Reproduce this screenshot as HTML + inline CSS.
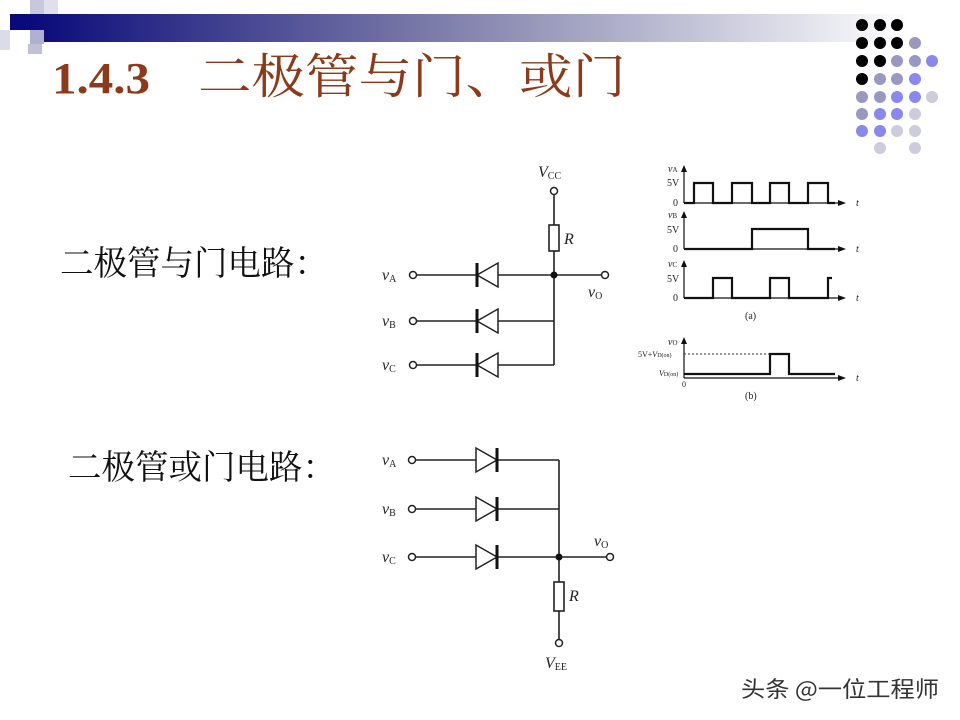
<!DOCTYPE html>
<html><head><meta charset="utf-8"><style>
html,body{margin:0;padding:0;background:#fff}
svg{display:block}
</style></head><body>
<svg width="960" height="720" viewBox="0 0 960 720" xmlns="http://www.w3.org/2000/svg" font-family="Liberation Serif, serif">
<defs>
<linearGradient id="g" x1="0" x2="1" y1="0" y2="0">
<stop offset="0" stop-color="#0a0a7a"/><stop offset="0.45" stop-color="#7a7aa8"/><stop offset="1" stop-color="#ffffff"/>
</linearGradient>
</defs>
<!-- header -->
<rect x="30" y="14" width="880" height="28" fill="url(#g)"/>
<rect x="10" y="14" width="20" height="16" fill="#0a0a7a"/>
<rect x="30" y="0" width="14" height="14" fill="#c8c8dc"/>
<rect x="44" y="0" width="14" height="14" fill="#e0e0ec"/>
<rect x="30" y="30" width="14" height="14" fill="#b0b0d0"/>
<rect x="0" y="30" width="10" height="20" fill="#dcdce8"/>
<rect x="28" y="44" width="14" height="10" fill="#c0c0d8"/>
<text x="52" y="93" font-size="44" font-weight="bold" fill="#8b3a1a" textLength="98" lengthAdjust="spacingAndGlyphs" font-family="Liberation Serif, serif">1.4.3</text>
<text x="198" y="93" font-size="48" fill="#8b3a1a" textLength="428" lengthAdjust="spacingAndGlyphs" font-family="'Noto Serif CJK SC', serif">二极管与门、或门</text>
<!-- dots -->
<g>
<circle cx="862" cy="25" r="6" fill="#000"/><circle cx="880" cy="25" r="6" fill="#000"/><circle cx="897" cy="25" r="6" fill="#000"/>
<circle cx="862" cy="43" r="6" fill="#000"/><circle cx="880" cy="43" r="6" fill="#000"/><circle cx="897" cy="43" r="6" fill="#000"/><circle cx="915" cy="43" r="6" fill="#9999c0"/>
<circle cx="862" cy="61" r="6" fill="#000"/><circle cx="880" cy="61" r="6" fill="#000"/><circle cx="897" cy="61" r="6" fill="#9999c0"/><circle cx="915" cy="61" r="6" fill="#9999c0"/><circle cx="932" cy="61" r="6" fill="#8888ee"/>
<circle cx="862" cy="79" r="6" fill="#000"/><circle cx="880" cy="79" r="6" fill="#9999c0"/><circle cx="897" cy="79" r="6" fill="#9999c0"/><circle cx="915" cy="79" r="6" fill="#8888ee"/>
<circle cx="862" cy="97" r="6" fill="#9999c0"/><circle cx="880" cy="97" r="6" fill="#9999c0"/><circle cx="897" cy="97" r="6" fill="#8888ee"/><circle cx="915" cy="97" r="6" fill="#8888ee"/><circle cx="932" cy="97" r="6" fill="#ccccdd"/>
<circle cx="862" cy="114" r="6" fill="#9999c0"/><circle cx="880" cy="114" r="6" fill="#8888ee"/><circle cx="897" cy="114" r="6" fill="#8888ee"/><circle cx="915" cy="114" r="6" fill="#ccccdd"/>
<circle cx="862" cy="131" r="6" fill="#8888ee"/><circle cx="880" cy="131" r="6" fill="#8888ee"/><circle cx="897" cy="131" r="6" fill="#ccccdd"/><circle cx="915" cy="131" r="6" fill="#ccccdd"/>
<circle cx="880" cy="148" r="6" fill="#ccccdd"/><circle cx="915" cy="148" r="6" fill="#ccccdd"/>
</g>
<!-- labels -->
<text x="60" y="275" font-size="34" fill="#111" textLength="268" lengthAdjust="spacingAndGlyphs" font-family="'Noto Serif CJK SC', serif">二极管与门电路：</text>
<text x="68" y="479" font-size="34" fill="#111" textLength="268" lengthAdjust="spacingAndGlyphs" font-family="'Noto Serif CJK SC', serif">二极管或门电路：</text>
<!-- AND circuit -->
<g stroke="#222" stroke-width="1.6" fill="none">
<line x1="554" y1="195" x2="554" y2="225"/>
<rect x="549" y="225" width="10" height="26" fill="#fff"/>
<line x1="554" y1="251" x2="554" y2="365"/>
<line x1="417" y1="275" x2="601" y2="275"/>
<line x1="417" y1="321" x2="554" y2="321"/>
<line x1="417" y1="365" x2="554" y2="365"/>
</g>
<g stroke="#222" stroke-width="1.5" fill="#fff">
<circle cx="554" cy="191" r="3.5"/><circle cx="413" cy="275" r="3.5"/><circle cx="413" cy="321" r="3.5"/><circle cx="413" cy="365" r="3.5"/><circle cx="605" cy="275" r="3.5"/>
<polygon points="477,275 498,263 498,287"/><polygon points="477,321 498,309 498,333"/><polygon points="477,365 498,353 498,377"/>
</g>
<g stroke="#111" stroke-width="3">
<line x1="477" y1="263" x2="477" y2="287"/><line x1="477" y1="309" x2="477" y2="333"/><line x1="477" y1="353" x2="477" y2="377"/>
</g>
<circle cx="554" cy="275" r="3.5" fill="#111"/>
<g font-size="16" fill="#222" font-style="italic">
<text x="538" y="177">V<tspan font-size="10" font-style="normal" dy="2">CC</tspan></text>
<text x="564" y="244">R</text>
<text x="382" y="280">v<tspan font-size="10" font-style="normal" dy="2">A</tspan></text>
<text x="382" y="326">v<tspan font-size="10" font-style="normal" dy="2">B</tspan></text>
<text x="382" y="370">v<tspan font-size="10" font-style="normal" dy="2">C</tspan></text>
<text x="588" y="297">v<tspan font-size="10" font-style="normal" dy="2">O</tspan></text>
</g>
<!-- OR circuit -->
<g stroke="#222" stroke-width="1.6" fill="none">
<line x1="416" y1="460" x2="559" y2="460"/>
<line x1="416" y1="509" x2="559" y2="509"/>
<line x1="416" y1="557" x2="606" y2="557"/>
<line x1="559" y1="460" x2="559" y2="582"/>
<rect x="554" y="582" width="10" height="29" fill="#fff"/>
<line x1="559" y1="611" x2="559" y2="639"/>
</g>
<g stroke="#222" stroke-width="1.5" fill="#fff">
<circle cx="412" cy="460" r="3.5"/><circle cx="412" cy="509" r="3.5"/><circle cx="412" cy="557" r="3.5"/><circle cx="610" cy="557" r="3.5"/><circle cx="559" cy="643" r="3.5"/>
<polygon points="476,448 476,472 497,460"/><polygon points="476,497 476,521 497,509"/><polygon points="476,545 476,569 497,557"/>
</g>
<g stroke="#111" stroke-width="3">
<line x1="497" y1="448" x2="497" y2="472"/><line x1="497" y1="497" x2="497" y2="521"/><line x1="497" y1="545" x2="497" y2="569"/>
</g>
<circle cx="559" cy="557" r="3.5" fill="#111"/>
<g font-size="16" fill="#222" font-style="italic">
<text x="382" y="465">v<tspan font-size="10" font-style="normal" dy="2">A</tspan></text>
<text x="382" y="514">v<tspan font-size="10" font-style="normal" dy="2">B</tspan></text>
<text x="382" y="562">v<tspan font-size="10" font-style="normal" dy="2">C</tspan></text>
<text x="594" y="546">v<tspan font-size="10" font-style="normal" dy="2">O</tspan></text>
<text x="569" y="601">R</text>
<text x="545" y="668">V<tspan font-size="10" font-style="normal" dy="2">EE</tspan></text>
</g>
<!-- waveforms -->
<g stroke="#111" stroke-width="1.2" fill="none">
<line x1="684" y1="168" x2="684" y2="203"/><line x1="684" y1="203" x2="843" y2="203"/>
<line x1="684" y1="214" x2="684" y2="249"/><line x1="684" y1="249" x2="843" y2="249"/>
<line x1="684" y1="263" x2="684" y2="298"/><line x1="684" y1="298" x2="843" y2="298"/>
<line x1="684" y1="340" x2="684" y2="378"/><line x1="684" y1="378" x2="843" y2="378"/>
</g>
<g fill="#111">
<polygon points="684,165 681,172 687,172"/><polygon points="684,211 681,218 687,218"/><polygon points="684,260 681,267 687,267"/><polygon points="684,337 681,344 687,344"/>
<polygon points="846,203 838,200 838,206"/><polygon points="846,249 838,246 838,252"/><polygon points="846,298 838,295 838,301"/><polygon points="846,378 838,375 838,381"/>
</g>
<g stroke="#111" stroke-width="2.2" fill="none">
<polyline points="684,203 694,203 694,183 713,183 713,203 732,203 732,183 752,183 752,203 770,203 770,183 789,183 789,203 808,203 808,183 828,183 828,203 835,203"/>
<polyline points="684,249 752,249 752,229 808,229 808,249 835,249"/>
<polyline points="684,298 713,298 713,278 732,278 732,298 770,298 770,278 789,278 789,298 828,298 828,278 832,278"/>
<polyline points="684,374 770,374 770,354 789,354 789,374 835,374"/>
</g>
<line x1="684" y1="354" x2="770" y2="354" stroke="#333" stroke-width="1" stroke-dasharray="2,2"/>
<g font-size="10" fill="#222">
<text x="668" y="172" font-style="italic">v<tspan font-size="7" font-style="normal">A</tspan></text>
<text x="667" y="186">5V</text><text x="673" y="206">0</text>
<text x="668" y="218" font-style="italic">v<tspan font-size="7" font-style="normal">B</tspan></text>
<text x="667" y="233">5V</text><text x="673" y="252">0</text>
<text x="668" y="267" font-style="italic">v<tspan font-size="7" font-style="normal">C</tspan></text>
<text x="667" y="282">5V</text><text x="673" y="301">0</text>
<text x="745" y="319">(a)</text>
<text x="668" y="345" font-style="italic">v<tspan font-size="7" font-style="normal">O</tspan></text>
<text x="638" y="357" font-size="8">5V+<tspan font-style="italic">V</tspan><tspan font-size="6">D(on)</tspan></text>
<text x="659" y="376" font-size="8" font-style="italic">V<tspan font-size="6" font-style="normal">D(on)</tspan></text>
<text x="682" y="387" font-size="8">0</text>
<text x="745" y="399">(b)</text>
<text x="856" y="206" font-style="italic">t</text><text x="856" y="252" font-style="italic">t</text><text x="856" y="301" font-style="italic">t</text><text x="856" y="381" font-style="italic">t</text>
</g>
<!-- watermark -->
<text x="742" y="698" font-size="22" fill="#fff" font-family="'Noto Sans CJK SC', sans-serif" textLength="198" lengthAdjust="spacingAndGlyphs">头条 @一位工程师</text>
<text x="741" y="697" font-size="22" fill="#333" font-family="'Noto Sans CJK SC', sans-serif" textLength="198" lengthAdjust="spacingAndGlyphs">头条 @一位工程师</text>
</svg>
</body></html>
